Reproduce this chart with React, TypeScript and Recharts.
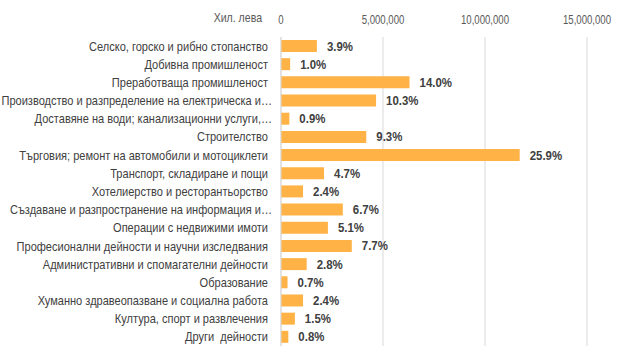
import React from 'react';
import { BarChart, Bar, XAxis, YAxis, CartesianGrid, LabelList } from 'recharts';

// Sectors (top to bottom)
const sectors = [
  'Селско, горско и рибно стопанство',
  'Добивна промишленост',
  'Преработваща промишленост',
  'Производство и разпределение на електрическа и…',
  'Доставяне на води; канализационни услуги,…',
  'Строителство',
  'Търговия; ремонт на автомобили и мотоциклети',
  'Транспорт, складиране и пощи',
  'Хотелиерство и ресторантьорство',
  'Създаване и разпространение на информация и…',
  'Операции с недвижими имоти',
  'Професионални дейности и научни изследвания',
  'Административни и спомагателни дейности',
  'Образование',
  'Хуманно здравеопазване и социална работа',
  'Култура, спорт и развлечения',
  'Други  дейности',
];

// Хил. лева
const amounts = [
  1760000, 450000, 6300000, 4660000, 410000, 4180000, 11700000, 2110000, 1080000,
  3030000, 2300000, 3470000, 1260000, 320000, 1080000, 680000, 360000,
];

// Share of total
const shares = [
  '3.9%', '1.0%', '14.0%', '10.3%', '0.9%', '9.3%', '25.9%', '4.7%', '2.4%',
  '6.7%', '5.1%', '7.7%', '2.8%', '0.7%', '2.4%', '1.5%', '0.8%',
];

const xTicks = [0, 5000000, 10000000, 15000000];

const data = sectors.map((name, i) => ({ name, amount: amounts[i], share: shares[i] }));

const FONT = '"Liberation Sans", Arial, sans-serif';

// narrow-font look: squeeze glyphs horizontally
const squeeze = (x: number, y: number, s: number) => `translate(${x},${y}) scale(${s},1)`;

const CategoryTick = (props: any) => {
  const { x, y, payload } = props;
  // truncated labels run right up to the axis, like Excel does
  const cut = String(payload.value).endsWith('…');
  return (
    <text
      transform={squeeze(x - (cut ? 1 : 5), y, 0.85)}
      dy={4.5}
      textAnchor="end"
      fill="#404040"
      fontSize={13}
      fontFamily={FONT}
      style={{ whiteSpace: 'pre' }}
    >
      {payload.value}
    </text>
  );
};

const ValueTick = (props: any) => {
  const { x, payload } = props;
  return (
    <text
      transform={squeeze(x, 24, 0.8)}
      textAnchor="middle"
      fill="#595959"
      fontSize={12}
      fontFamily={FONT}
    >
      {payload.value.toLocaleString('en-US')}
    </text>
  );
};

const ShareLabel = (props: any) => {
  const { x, y, width, height, value } = props;
  return (
    <text
      transform={squeeze(x + width + 10, y + height / 2 + 4.5, 0.88)}
      fill="#404040"
      fontSize={13}
      fontWeight="bold"
      fontFamily={FONT}
    >
      {value}
    </text>
  );
};

export default function App() {
  return (
    <div style={{ position: 'relative', width: 620, height: 346, background: '#fff' }}>
      <style>{'body{margin:0}'}</style>
      <svg style={{ position: 'absolute', left: 0, top: 0 }} width={620} height={37}>
        <text
          transform={squeeze(262, 22, 0.88)}
          textAnchor="end"
          fill="#595959"
          fontSize={12}
          fontFamily={FONT}
        >
          Хил. лева
        </text>
      </svg>
      <BarChart
        width={620}
        height={346}
        data={data}
        layout="vertical"
        margin={{ top: 0, right: 33, bottom: 0, left: 0 }}
        barSize={12}
      >
        <CartesianGrid horizontal={false} stroke="#d9d9d9" />
        <XAxis
          type="number"
          orientation="top"
          domain={[0, 15000000]}
          ticks={xTicks}
          height={37}
          axisLine={false}
          tickLine={false}
          tick={<ValueTick />}
        />
        <YAxis
          type="category"
          dataKey="name"
          width={281}
          interval={0}
          axisLine={{ stroke: '#d9d9d9' }}
          tickLine={false}
          tick={<CategoryTick />}
        />
        <Bar dataKey="amount" fill="#FFB347" isAnimationActive={false}>
          <LabelList dataKey="share" content={<ShareLabel />} />
        </Bar>
      </BarChart>
    </div>
  );
}
